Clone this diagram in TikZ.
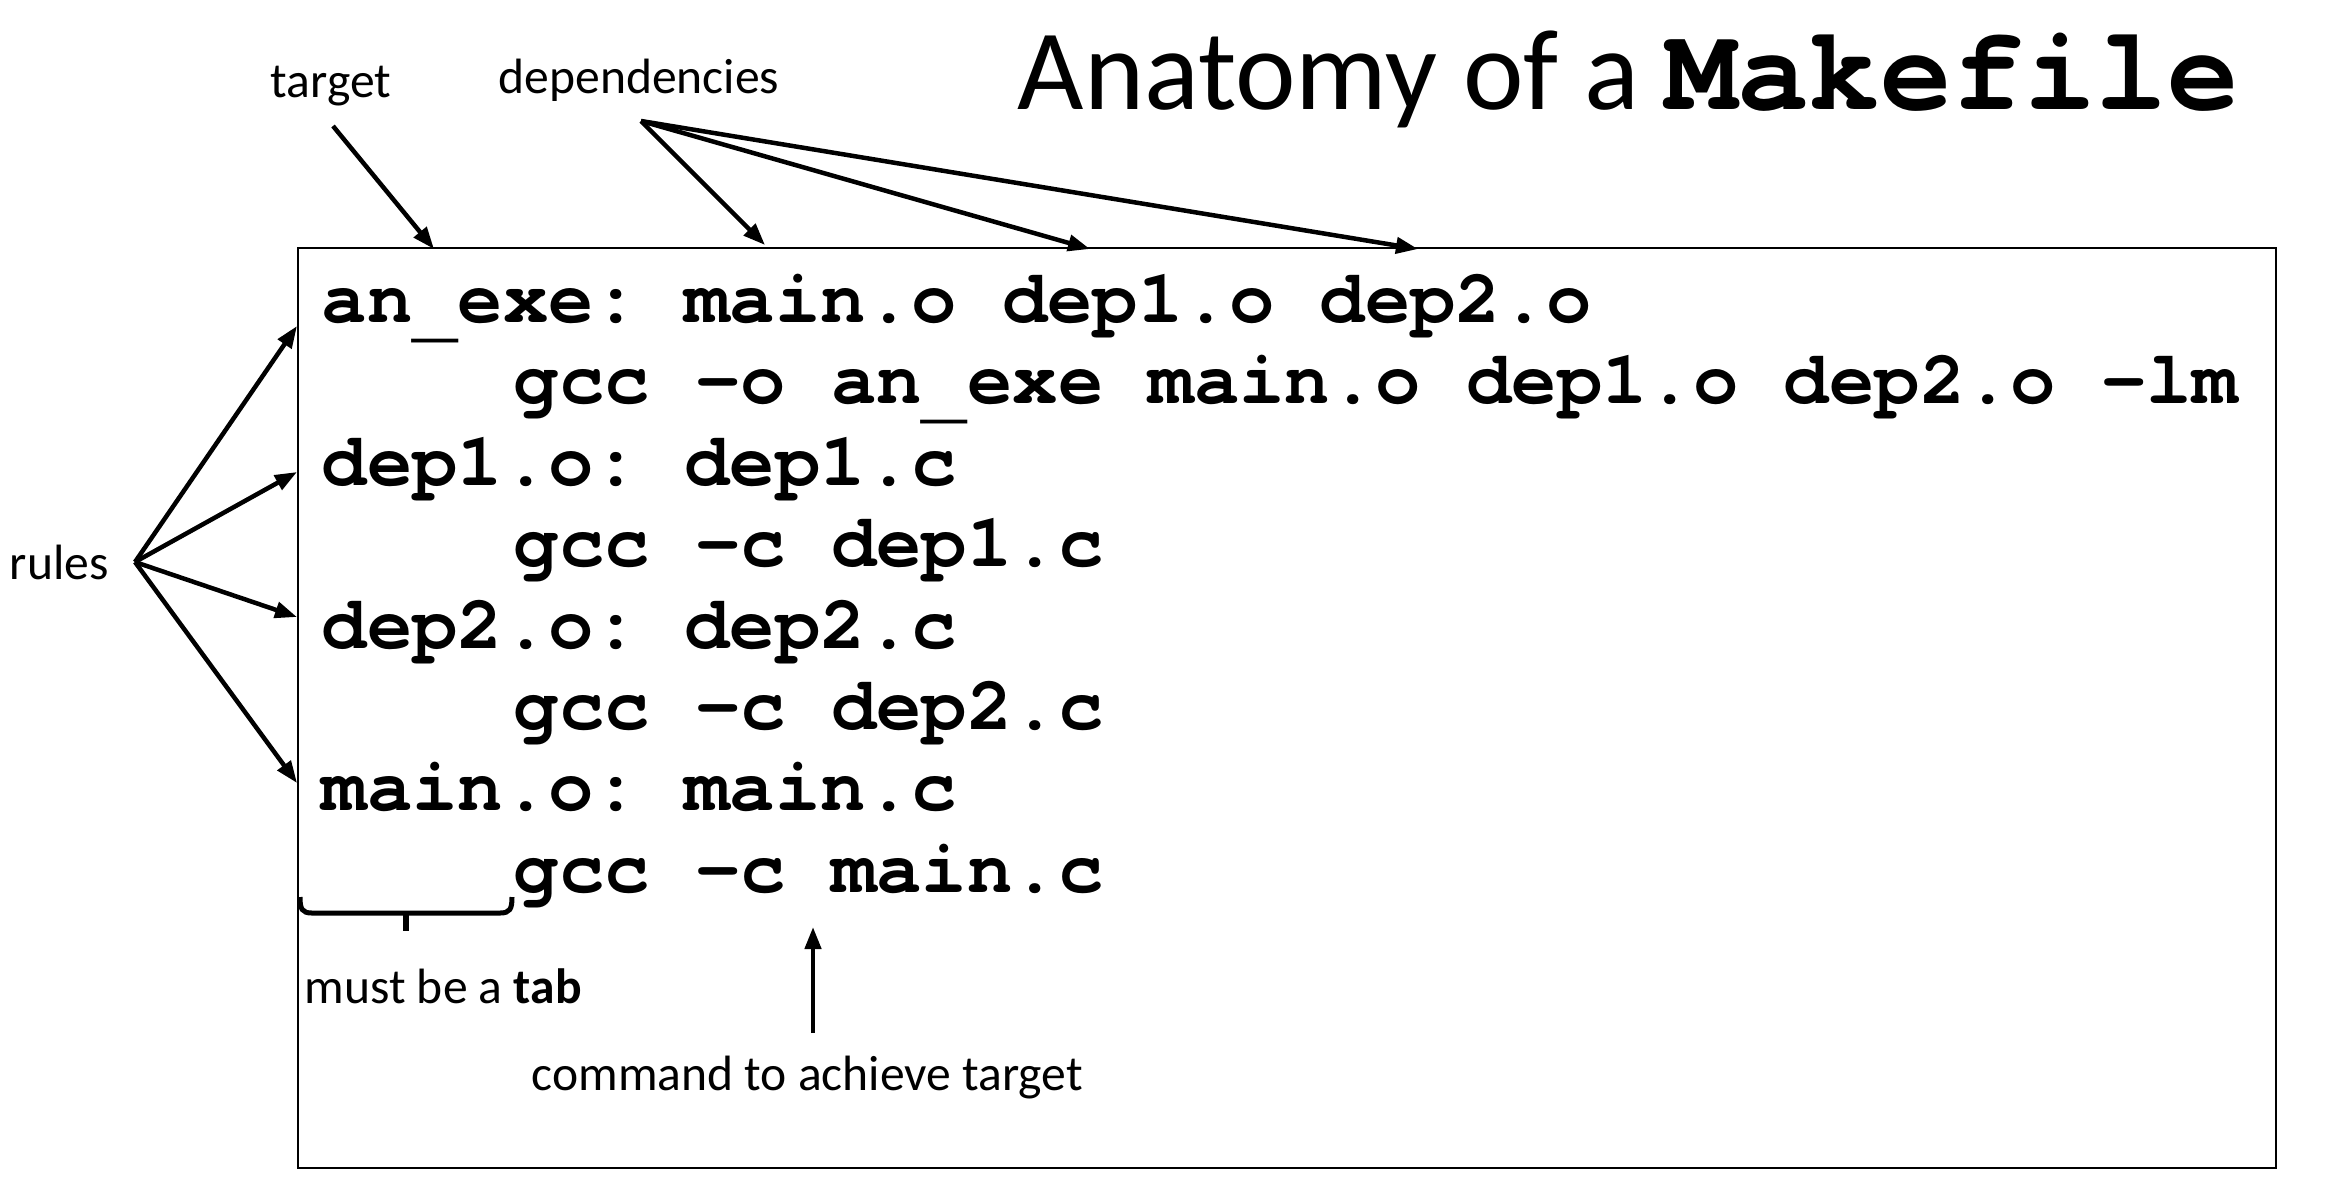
\documentclass[tikz,border=0pt]{standalone}
\usepackage{fontspec}
\setmainfont{Carlito}
\newfontfamily\codefont{TeX Gyre Cursor}[Ligatures={NoCommon,NoRequired,NoContextual}]
\usetikzlibrary{arrows.meta}
% underscore sitting below the baseline, as in Courier
\newcommand{\lowus}{\raisebox{-0.15em}{\_}}

\begin{document}
\begin{tikzpicture}[x=0.01cm,y=-0.01cm,
  lbl/.style={inner sep=0pt, font=\fontsize{14.1}{16}\selectfont},
  codeline/.style={inner sep=0pt, anchor=base west,
    font=\codefont\bfseries\frenchspacing\fontsize{21.5}{24}\selectfont},
  ptr/.style={line width=0.045cm, -{Triangle[length=0.22cm,width=0.16cm]}},
  frame/.style={line width=0.025cm},
  bracepath/.style={line width=0.05cm}]

\useasboundingbox (0,0) rectangle (2328,1184);
\fill[white] (0,0) rectangle (2328,1184);

% title
\node[anchor=base west, inner sep=0pt] (title) at (1017,109)
  {\fontsize{32.6}{36}\selectfont Anatomy of a {\codefont\bfseries\fontsize{34}{36}\selectfont Makefile}};

% frame around the makefile
\coordinate (box-nw) at (298,248);
\coordinate (box-se) at (2276,1168);
\draw[frame] (box-nw) rectangle (box-se);

% makefile contents
\node[codeline] (l1) at (321,322) {an\lowus exe: main.o dep1.o dep2.o};
\node[codeline] (l2) at (513,403) {gcc -o an\lowus exe main.o dep1.o dep2.o -lm};
\node[codeline] (l3) at (321,485) {dep1.o: dep1.c};
\node[codeline] (l4) at (513,566) {gcc -c dep1.c};
\node[codeline] (l5) at (321,648) {dep2.o: dep2.c};
\node[codeline] (l6) at (513,729) {gcc -c dep2.c};
\node[codeline] (l7) at (321,810) {main.o: main.c};
\node[codeline] (l8) at (513,892) {gcc -c main.c};

% annotation labels
\node[lbl, anchor=base] (target) at (331,97) {target};
\node[lbl, anchor=base] (deps) at (639,93) {dependencies};
\node[lbl, anchor=base west] (rules) at (9,579) {rules};
\node[lbl, anchor=base west] (tab) at (304,1003) {must be a \textbf{tab}};
\node[lbl, anchor=base west] (cmd) at (531,1090) {command to achieve target};

% target pointer
\coordinate (tgt-tail) at (333,126);
\coordinate (tgt-head) at (434,249);
\draw[ptr] (tgt-tail) -- (tgt-head);

% dependency pointers
\coordinate (dep-tail) at (641,121);
\coordinate (dep-a) at (765,245);
\coordinate (dep-b) at (1090,249);
\coordinate (dep-c) at (1418,249);
\draw[ptr] (dep-tail) -- (dep-a);
\draw[ptr] (dep-tail) -- (dep-b);
\draw[ptr] (dep-tail) -- (dep-c);

% rule pointers
\coordinate (rule-tail) at (135,562);
\coordinate (rule-a) at (297,326);
\coordinate (rule-b) at (297,472);
\coordinate (rule-c) at (297,617);
\coordinate (rule-d) at (297,783);
\draw[ptr] (rule-tail) -- (rule-a);
\draw[ptr] (rule-tail) -- (rule-b);
\draw[ptr] (rule-tail) -- (rule-c);
\draw[ptr] (rule-tail) -- (rule-d);

% tab brace
\draw[bracepath] (300,897) .. controls (300,909) and (302,913) .. (312,913)
  -- (500,913) .. controls (510,913) and (512,909) .. (512,897);
\draw[line width=0.06cm] (406,913) -- (406,931);

% command pointer
\coordinate (cmd-tail) at (813,1033);
\coordinate (cmd-head) at (813,927);
\draw[ptr] (cmd-tail) -- (cmd-head);

\end{tikzpicture}
\end{document}
